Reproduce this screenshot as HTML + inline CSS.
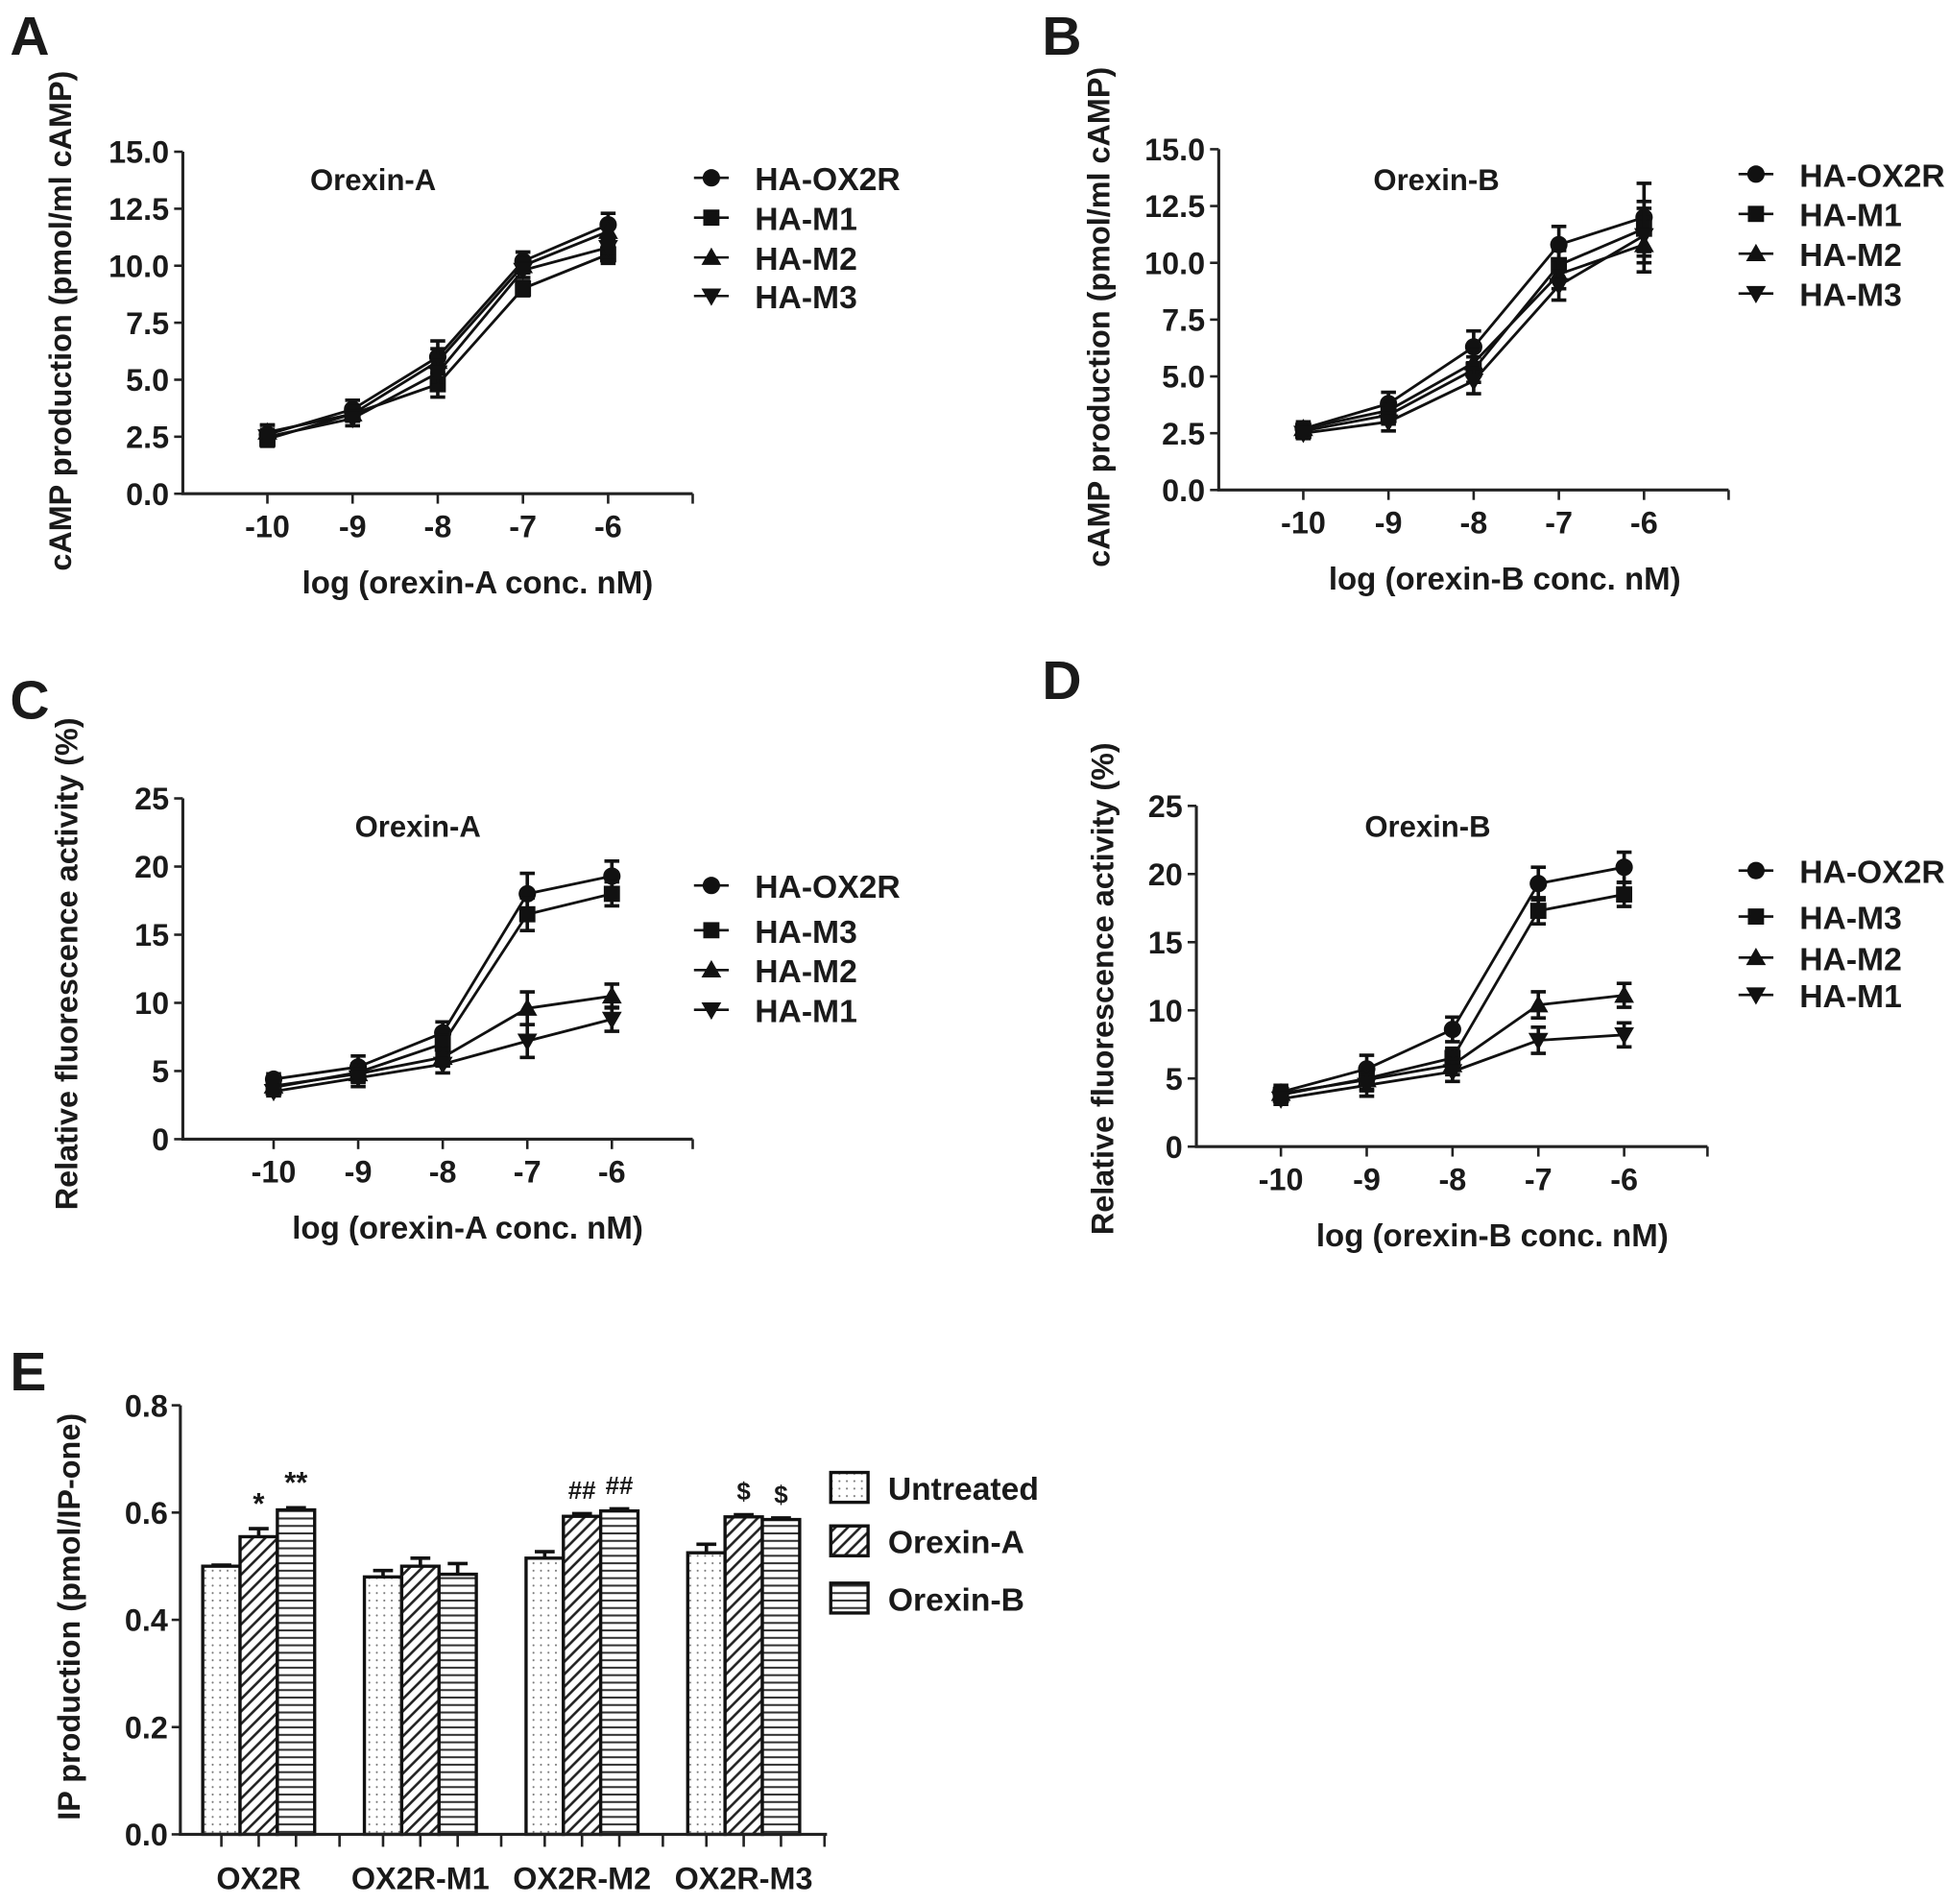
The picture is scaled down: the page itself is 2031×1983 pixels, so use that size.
<!DOCTYPE html>
<html><head><meta charset="utf-8"><style>
html,body{margin:0;padding:0;background:#fff}
svg{display:block}
text{font-family:"Liberation Sans",Arial,sans-serif;font-weight:bold;fill:#1a1a1a}
</style></head><body>
<svg id="fig" width="2031" height="1983" viewBox="0 0 1568 1531" xmlns="http://www.w3.org/2000/svg">
<defs>
<pattern id="pDots" width="6" height="6" patternUnits="userSpaceOnUse"><rect width="6" height="6" fill="#fff"/><circle cx="3" cy="3" r="0.8" fill="#777"/></pattern>
<pattern id="pDiag" width="10" height="10" patternUnits="userSpaceOnUse"><rect width="10" height="10" fill="#fff"/><path d="M-2,12 L12,-2 M-2,2 L2,-2 M8,12 L12,8" stroke="#222" stroke-width="2"/></pattern>
<pattern id="pHor" width="6" height="6" patternUnits="userSpaceOnUse"><rect width="6" height="6" fill="#fff"/><line x1="0" y1="3" x2="6" y2="3" stroke="#333" stroke-width="1.6"/></pattern>
</defs>
</svg>
<script>
// ---- data ----
const xTicks = [-10,-9,-8,-7,-6];
const aNames = ["HA-OX2R","HA-M1","HA-M2","HA-M3"];
const aOX2R = [2.6,3.7,6.0,10.2,11.8];
const aM1 = [2.4,3.5,4.8,9.0,10.5];
const aM2 = [2.7,3.5,5.8,10.0,11.5];
const aM3 = [2.5,3.3,5.3,9.8,10.8];
const aErr = [0.4,0.4,0.7,0.4,0.5];
const bOX2R = [2.7,3.8,6.3,10.8,12.0];
const bM1 = [2.6,3.3,5.3,9.9,11.5];
const bM2 = [2.7,3.5,5.6,9.5,10.8];
const bM3 = [2.5,3.0,4.8,9.0,11.2];
const bErr = [0.3,0.5,0.7,0.8,1.5];
const cdNames = ["HA-OX2R","HA-M3","HA-M2","HA-M1"];
const cOX2R = [4.4,5.3,7.8,18.0,19.3];
const cM3 = [3.8,4.9,7.0,16.5,18.0];
const cM2 = [3.9,4.8,6.0,9.6,10.5];
const cM1 = [3.5,4.5,5.5,7.2,8.8];
const cErr = [0.4,0.8,0.8,1.5,1.1];
const dOX2R = [4.0,5.7,8.6,19.3,20.5];
const dM3 = [3.8,5.0,6.5,17.3,18.5];
const dM2 = [3.9,4.9,6.0,10.4,11.1];
const dM1 = [3.5,4.5,5.5,7.8,8.2];
const dErr = [0.5,1.0,0.9,1.2,1.1];
const abYTicks = ["0.0","2.5","5.0","7.5","10.0","12.5","15.0"];
const cdYTicks = ["0","5","10","15","20","25"];
const eGroups = ["OX2R","OX2R-M1","OX2R-M2","OX2R-M3"];
const eTreat = ["Untreated","Orexin-A","Orexin-B"];
const eUntreated = [0.50,0.48,0.515,0.525];
const eOrexinA = [0.555,0.50,0.593,0.592];
const eOrexinB = [0.605,0.485,0.603,0.587];
const eErrU = [0.002,0.012,0.012,0.016];
const eErrA = [0.015,0.015,0.005,0.004];
const eErrB = [0.004,0.02,0.004,0.003];
const eSig = [["","*","**"],["","",""],["","##","##"],["","$","$"]];
const eYTicks = ["0.0","0.2","0.4","0.6","0.8"];

const NS="http://www.w3.org/2000/svg";
const svg=document.getElementById('fig');
function mk(tag,attrs,parent,txt){const e=document.createElementNS(NS,tag);for(const k in attrs)e.setAttribute(k,attrs[k]);if(txt!==undefined)e.textContent=txt;(parent||svg).appendChild(e);return e;}

function marker(g,type,x,y){
  let e;
  if(type===0){e=mk('circle',{cx:x,cy:y,r:7,fill:'#111'},g);}
  else if(type===1){e=mk('rect',{x:x-6.5,y:y-6.5,width:13,height:13,fill:'#111'},g);}
  else if(type===2){e=mk('polygon',{points:`${x},${y-8} ${x-8},${y+6} ${x+8},${y+6}`,fill:'#111'},g);}
  else {e=mk('polygon',{points:`${x},${y+8} ${x-8},${y-6} ${x+8},${y-6}`,fill:'#111'},g);}
  
  
}

function linePanel(cfg){
  const g=mk('g',{});
  
  
  const yMax=cfg.yMax;
  const yS=v=>cfg.y0-(v/yMax)*(cfg.y0-cfg.y1);
  const xS=t=>cfg.tx0+(t-xTicks[0])*cfg.dx;
  const L=mk('text',{x:cfg.lx,y:cfg.ly,'font-size':44},g,cfg.letter);
  
  const ax=mk('path',{d:`M${cfg.ax},${cfg.y1} L${cfg.ax},${cfg.y0} L${cfg.axr},${cfg.y0}`,stroke:'#222','stroke-width':2.4,fill:'none'},g);
  
  cfg.yTicks.forEach((t,i)=>{
    const v=parseFloat(t);const y=yS(v);
    mk('line',{x1:cfg.ax-7,y1:y,x2:cfg.ax,y2:y,stroke:'#222','stroke-width':2},g);
    const tx=mk('text',{x:cfg.ax-11,y:y+9,'font-size':25,'text-anchor':'end'},g,t);
    
  });
  xTicks.forEach(t=>{
    const x=xS(t);
    mk('line',{x1:x,y1:cfg.y0,x2:x,y2:cfg.y0+8,stroke:'#222','stroke-width':2},g);
    const tx=mk('text',{x:x,y:cfg.y0+35,'font-size':25,'text-anchor':'middle'},g,String(t));
    
  });
  mk('line',{x1:cfg.axr,y1:cfg.y0,x2:cfg.axr,y2:cfg.y0+8,stroke:'#222','stroke-width':2},g);
  const xt=mk('text',{x:cfg.xtx,y:cfg.y0+80,'font-size':25.5,'text-anchor':'middle'},g,cfg.xTitle);
  
  const yt=mk('text',{x:0,y:0,'font-size':25,'text-anchor':'middle',transform:`translate(${cfg.ytx},${cfg.yty}) rotate(-90)`},g,cfg.yTitle);
  
  const ti=mk('text',{x:cfg.tix,y:cfg.tiy,'font-size':24,'text-anchor':'middle'},g,cfg.title);
  
  cfg.series.forEach((s,si)=>{
    const sg=mk('g',{},g);
    
    
    const pts=s.map((v,i)=>`${xS(xTicks[i])},${yS(v)}`).join(' ');
    mk('polyline',{points:pts,fill:'none',stroke:'#111','stroke-width':2.2},sg);
    s.forEach((v,i)=>{
      const x=xS(xTicks[i]);const e=cfg.err[i]*(si===0?1:0.8);
      const ya=yS(v+e),yb=yS(v-e);
      mk('path',{d:`M${x},${ya} L${x},${yb} M${x-6},${ya} L${x+6},${ya} M${x-6},${yb} L${x+6},${yb}`,stroke:'#111','stroke-width':2.8},sg);
      marker(sg,cfg.types[si],x,yS(v));
    });
  });
  cfg.names.forEach((n,i)=>{
    const lg=mk('g',{},g);
    
    
    const y=cfg.legY[i];
    mk('line',{x1:cfg.legX-14,y1:y,x2:cfg.legX+14,y2:y,stroke:'#111','stroke-width':2},lg);
    marker(lg,cfg.types[i],cfg.legX,y);
    mk('text',{x:cfg.legX+35,y:y+10,'font-size':26},lg,n);
  });
}

linePanel({name:'panel-a',letter:'A',lx:8,ly:44,ax:147,axr:557,y0:397,y1:122,yMax:15,tx0:215,dx:68.5,yTicks:abYTicks,
  xTitle:'log (orexin-A conc. nM)',xtx:384,yTitle:'cAMP production (pmol/ml cAMP)',ytx:57,yty:258,title:'Orexin-A',tix:300,tiy:153,
  series:[aOX2R,aM1,aM2,aM3],err:aErr,names:aNames,types:[0,1,2,3],legX:572,legY:[143,175,207,238]});
linePanel({name:'panel-b',letter:'B',lx:838,ly:44,ax:980,axr:1390,y0:394,y1:120,yMax:15,tx0:1048,dx:68.5,yTicks:abYTicks,
  xTitle:'log (orexin-B conc. nM)',xtx:1210,yTitle:'cAMP production (pmol/ml cAMP)',ytx:892,yty:255,title:'Orexin-B',tix:1155,tiy:153,
  series:[bOX2R,bM1,bM2,bM3],err:bErr,names:aNames,types:[0,1,2,3],legX:1412,legY:[140,172,204,236]});
linePanel({name:'panel-c',letter:'C',lx:8,ly:578,ax:147,axr:557,y0:916,y1:642,yMax:25,tx0:220,dx:68,yTicks:cdYTicks,
  xTitle:'log (orexin-A conc. nM)',xtx:376,yTitle:'Relative fluorescence  activity (%)',ytx:62,yty:775,title:'Orexin-A',tix:336,tiy:673,
  series:[cOX2R,cM3,cM2,cM1],err:cErr,names:cdNames,types:[0,1,2,3],legX:572,legY:[712,748,780,812]});
linePanel({name:'panel-d',letter:'D',lx:838,ly:562,ax:962,axr:1373,y0:922,y1:648,yMax:25,tx0:1030,dx:69,yTicks:cdYTicks,
  xTitle:'log (orexin-B conc. nM)',xtx:1200,yTitle:'Relative fluorescence  activity (%)',ytx:895,yty:795,title:'Orexin-B',tix:1148,tiy:673,
  series:[dOX2R,dM3,dM2,dM1],err:dErr,names:cdNames,types:[0,1,2,3],legX:1412,legY:[700,737,770,800]});

// ---- panel E ----
(function(){
  const g=mk('g',{});
  
  
  const ax=145,axr=665,y0=1475,y1=1130,yMax=0.8;
  const yS=v=>y0-(v/yMax)*(y0-y1);
  const gStart=163,gStep=130,bw=30;
  const L=mk('text',{x:8,y:1118,'font-size':44},g,'E');
  
  const series=[eUntreated,eOrexinA,eOrexinB],errs=[eErrU,eErrA,eErrB],fills=['url(#pDots)','url(#pDiag)','url(#pHor)'];
  eGroups.forEach((gn,gi)=>{
    series.forEach((s,si)=>{
      const x=gStart+gi*gStep+si*bw;const y=yS(s[gi]);
      const b=mk('rect',{x:x,y:y,width:bw,height:y0-y,fill:fills[si],stroke:'#111','stroke-width':2.6},g);
      
      
      const ye=yS(s[gi]+errs[si][gi]);const xc=x+bw/2;
      mk('path',{d:`M${xc},${y} L${xc},${ye} M${xc-8},${ye} L${xc+8},${ye}`,stroke:'#111','stroke-width':2.8},g);
      if(eSig[gi][si]){
        const t=mk('text',{x:xc,y:ye-12,'font-size':eSig[gi][si]==='*'||eSig[gi][si]==='**'?24:20,'text-anchor':'middle'},g,eSig[gi][si]);
        
      }
      mk('line',{x1:xc,y1:y0,x2:xc,y2:y0+10,stroke:'#222','stroke-width':2},g);
    });
    mk('line',{x1:gStart+gi*gStep+3*bw+(gStep-3*bw)/2,y1:y0,x2:gStart+gi*gStep+3*bw+(gStep-3*bw)/2,y2:y0+10,stroke:'#222','stroke-width':2},g);
    const t=mk('text',{x:gStart+gi*gStep+1.5*bw,y:1519,'font-size':25,'text-anchor':'middle'},g,gn);
    
  });
  const axp=mk('path',{d:`M${ax},${y1} L${ax},${y0} L${axr},${y0}`,stroke:'#222','stroke-width':2.4,fill:'none'},g);
  
  eYTicks.forEach(t=>{
    const y=yS(parseFloat(t));
    mk('line',{x1:ax-7,y1:y,x2:ax,y2:y,stroke:'#222','stroke-width':2},g);
    const tx=mk('text',{x:ax-10,y:y+9,'font-size':25,'text-anchor':'end'},g,t);
    
  });
  const yt=mk('text',{x:0,y:0,'font-size':25,'text-anchor':'middle',transform:`translate(64,1300) rotate(-90)`},g,'IP production (pmol/IP-one)');
  
  const legY=[1196,1239,1285];
  eTreat.forEach((n,i)=>{
    const lg=mk('g',{},g);
    
    
    mk('rect',{x:668,y:legY[i]-12,width:30,height:24,fill:fills[i],stroke:'#111','stroke-width':2.6},lg);
    mk('text',{x:714,y:legY[i]+10,'font-size':26},lg,n);
  });
})();
</script>
</body></html>
